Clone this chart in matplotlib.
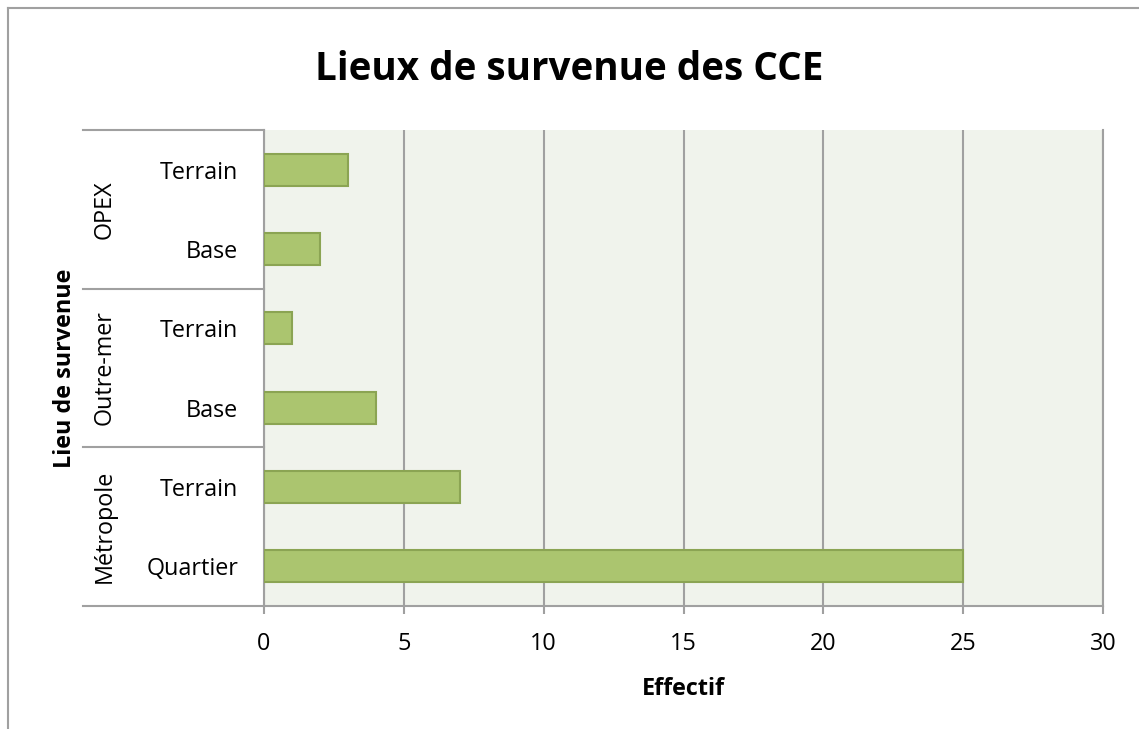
import matplotlib.pyplot as plt
import matplotlib.transforms as mtransforms
from matplotlib.lines import Line2D

# =====================================================
# data
# =====================================================

groups = ["Métropole", "Outre-mer", "OPEX"]
group_sizes = [2, 2, 2]
categories = ["Quartier", "Terrain", "Base", "Terrain", "Base", "Terrain"]
values = [25, 7, 4, 1, 2, 3]
x_ticks = [0, 5, 10, 15, 20, 25, 30]

title = "Lieux de survenue des CCE"
x_label = "Effectif"
y_label = "Lieu de survenue"

# =====================================================
# style
# =====================================================

plt.rcParams["font.family"] = ["Open Sans", "DejaVu Sans"]

W, H = 1139, 729
BAR_COLOR = "#abc56f"
BAR_EDGE = "#8ba453"
PLOT_BG = "#f0f3ec"
GRID = "#a0a0a0"
FS = 16.8

fig = plt.figure(figsize=(W / 100, H / 100), dpi=100)

left, right, top, bottom = 264, 1103, 130, 606
ax = fig.add_axes([left / W, 1 - bottom / H, (right - left) / W, (bottom - top) / H])
ax.set_facecolor(PLOT_BG)

y_pos = list(range(len(values)))
ax.barh(y_pos, values, height=0.4, color=BAR_COLOR, edgecolor=BAR_EDGE,
        linewidth=1.5, zorder=3)

ax.set_xlim(0, 30)
ax.set_ylim(-0.5, len(values) - 0.5)
ax.set_xticks(x_ticks)
ax.set_xticklabels([str(t) for t in x_ticks], fontsize=FS)
ax.set_yticks([])
ax.xaxis.grid(True, color=GRID, linewidth=1.5, zorder=1)
ax.tick_params(axis="x", length=6, width=1.5, color=GRID, pad=13)

ax.spines["top"].set_visible(False)
for side in ["left", "bottom", "right"]:
    ax.spines[side].set_color(GRID)
    ax.spines[side].set_linewidth(1.5)

ax.set_xlabel(x_label, fontsize=FS, fontweight="bold", labelpad=15)

# category labels and group labels
trans = mtransforms.blended_transform_factory(ax.transAxes, ax.transData)
px = 1.0 / (right - left)
dy = 6.0 / 79.33  # nudge labels down a few pixels

for i, cat in enumerate(categories):
    ax.text(-26 * px, i - dy * 0.5, cat, transform=trans, ha="right", va="center",
            fontsize=FS)

start = 0
bounds = [-0.5]
for g, n in zip(groups, group_sizes):
    mid = start + (n - 1) / 2
    ax.text(-159 * px, mid, g, transform=trans, ha="center", va="center",
            rotation=90, fontsize=FS)
    start += n
    bounds.append(start - 0.5)

for b in bounds:
    ax.add_line(Line2D([-181 * px, 0], [b, b], transform=trans, color=GRID,
                       linewidth=1.5, clip_on=False))

fig.text(65 / W, 1 - 368 / H, y_label, rotation=90, ha="center", va="center",
         fontsize=FS, fontweight="bold")

fig.text(0.5, 1 - 70 / H, title, ha="center", va="center", fontsize=27.8,
         fontweight="bold")

# outer chart border (top and left edges)
fig.add_artist(Line2D([8 / W, 1], [1 - 8 / H, 1 - 8 / H], transform=fig.transFigure,
                      color=GRID, linewidth=1.5))
fig.add_artist(Line2D([8 / W, 8 / W], [0, 1 - 8 / H], transform=fig.transFigure,
                      color=GRID, linewidth=1.5))

fig.savefig("out.png", dpi=100)
